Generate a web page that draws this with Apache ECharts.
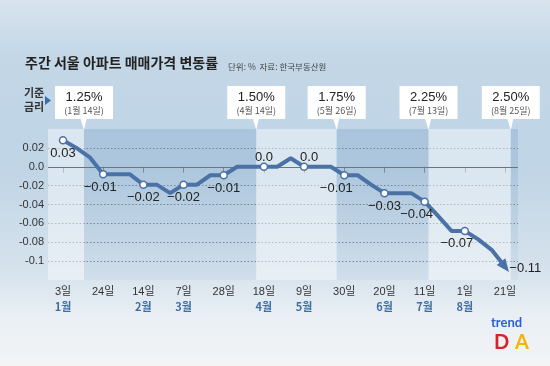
<!DOCTYPE html>
<html><head><meta charset="utf-8">
<script src="https://cdn.jsdelivr.net/npm/echarts@6/dist/echarts.min.js"></script>
<style>html,body{margin:0;padding:0;width:550px;height:366px;overflow:hidden}#c{width:550px;height:366px}</style>
</head><body><div id="c"></div><script>
// weekly change (%), 2022-01-03 .. 2022-08-21 (34 weeks)
const weekValues = [0.028, 0.02, 0.01, -0.008, -0.008, -0.008, -0.019, -0.019, -0.028, -0.019,
  -0.019, -0.009, -0.009, 0.0, 0.0, 0.0, 0.0, 0.009, 0.0, 0.0,
  0.0, -0.009, -0.009, -0.019, -0.028, -0.028, -0.028, -0.037, -0.052, -0.068,
  -0.068, -0.077, -0.088, -0.106];
const tickWeeks = [0, 3, 6, 9, 12, 15, 18, 21, 24, 27, 30, 33];
const dayLabels = ['3일', '24일', '14일', '7일', '28일', '18일', '9일', '30일', '20일', '11일', '1일', '21일'];
const monthLabels = ['1월', '', '2월', '3월', '', '4월', '5월', '', '6월', '7월', '8월', ''];
const pointLabels = ['0.03', '−0.01', '−0.02', '−0.02', '−0.01', '0.0', '0.0', '−0.01', '−0.03', '−0.04', '−0.07', '−0.11'];
const yTickLabels = { '0.02': '0.02', '0': '0.0', '-0.02': '-0.02', '-0.04': '-0.04', '-0.06': '-0.06', '-0.08': '-0.08', '-0.1': '-0.1' };
// base-rate changes (week index position), rate and date
const rateWeeks = [1.57, 14.43, 20.43, 27.29, 33.43];
const rateValues = ['1.25%', '1.50%', '1.75%', '2.25%', '2.50%'];
const rateDates = ['(1월 14일)', '(4월 14일)', '(5월 26일)', '(7월 13일)', '(8월 25일)'];

const LINE = '#4b72a6';
const xMin = -1.12, xMax = 33.97;

const data = weekValues.map((v, i) => {
  const k = tickWeeks.indexOf(i);
  const item = { value: [i, v] };
  if (k < 0) { item.symbol = 'none'; return item; }
  const last = k === tickWeeks.length - 1;
  const above = pointLabels[k] === '0.0';
  const leftShift = [21, 27, 30].includes(i) ? -8 : (i === 3 ? -3 : 0);
  if (last) {
    item.symbol = 'triangle';
    item.symbolSize = [11, 13];
    item.symbolRotate = -142;
    item.itemStyle = { color: LINE, borderWidth: 0 };
    item.label = { show: true, formatter: pointLabels[k], position: 'right', distance: 2, offset: [-6, 2] };
  } else {
    item.symbol = 'circle';
    item.symbolSize = 7;
    item.label = { show: true, formatter: pointLabels[k], position: above ? 'top' : 'bottom', distance: 2,
      offset: above ? [i === 18 ? 5 : 0, 3] : [leftShift, 0] };
  }
  return item;
});

const paleBand = 'rgba(255,255,255,0.42)';
const darkBand = { type: 'linear', x: 0, y: 0, x2: 0, y2: 1, colorStops: [
  { offset: 0, color: 'rgba(85,135,185,0.22)' }, { offset: 1, color: 'rgba(85,135,185,0.06)' }] };
const bandEdges = [xMin].concat(rateWeeks, [xMax]);
const bands = [];
for (let i = 0; i < bandEdges.length - 1; i++) {
  bands.push([{ xAxis: bandEdges[i], itemStyle: { color: i % 2 === 0 ? paleBand : darkBand } }, { xAxis: bandEdges[i + 1] }]);
}

const chart = echarts.init(document.getElementById('c'), null, { renderer: 'canvas' });
const option = {
  animation: false,
  backgroundColor: { type: 'linear', x: 0, y: 0, x2: 0, y2: 1, colorStops: [
    { offset: 0, color: '#d8e4ee' }, { offset: 0.15, color: '#c3d7e7' }, { offset: 0.45, color: '#bfd4e5' },
    { offset: 0.75, color: '#d7e3ed' }, { offset: 0.86, color: '#e9eff4' }, { offset: 1, color: '#f2f4f6' }] },
  grid: { left: 48, right: 32, top: 129, bottom: 86, containLabel: false },
  xAxis: {
    type: 'value', min: xMin, max: xMax,
    axisLine: { show: false },
    splitLine: { show: false },
    axisTick: { show: true, customValues: tickWeeks, length: 6, lineStyle: { color: '#888' } },
    axisLabel: {
      customValues: tickWeeks, margin: 4, lineHeight: 15,
      formatter: (v) => {
        const k = tickWeeks.indexOf(Math.round(v));
        return '{d|' + dayLabels[k] + '}\n{m|' + (monthLabels[k] || ' ') + '}';
      },
      rich: {
        d: { fontFamily: 'Liberation Sans, Noto Sans CJK KR', fontSize: 11, color: '#333', lineHeight: 15 },
        m: { fontFamily: 'Noto Sans CJK KR', fontSize: 11, fontWeight: 'bold', color: '#3d6ea5', lineHeight: 15 }
      }
    }
  },
  yAxis: {
    type: 'value', min: -0.12, max: 0.04, interval: 0.02,
    axisLine: { show: false }, axisTick: { show: false },
    axisLabel: {
      margin: 4, fontFamily: 'Liberation Sans', fontSize: 11, color: '#333',
      formatter: (v) => { const key = String(Math.round(v * 100) / 100); return yTickLabels[key] || ''; }
    },
    splitLine: { show: true, showMinLine: false, showMaxLine: false, lineStyle: { color: '#7a8590', type: [1.5, 2], width: 1 } }
  },
  series: [{
    type: 'line', data: data, showAllSymbol: true,
    lineStyle: { color: LINE, width: 4 },
    itemStyle: { color: '#fff', borderColor: LINE, borderWidth: 1.5 },
    label: { color: '#222', fontFamily: 'Liberation Sans', fontSize: 13 },
    z: 5,
    markArea: { silent: true, data: bands, z: 1 },
    markLine: { silent: true, symbol: 'none', label: { show: false },
      lineStyle: { color: '#6b7580', type: 'solid', width: 1 }, data: [{ yAxis: 0 }] }
  }],
  graphic: []
};
chart.setOption(option);

const g = [
  { type: 'text', left: 25, top: 56, style: { text: '주간 서울 아파트 매매가격 변동률', fontFamily: 'Noto Sans CJK KR', fontWeight: 'bold', fontSize: 14, fill: '#222' } },
  { type: 'text', left: 228, top: 63, style: { text: '단위: %  자료: 한국부동산원', fontFamily: 'Noto Sans CJK KR', fontSize: 8.5, fill: '#444' } },
  { type: 'text', left: 24, top: 86, style: { text: '기준\n금리', lineHeight: 14, fontFamily: 'Noto Sans CJK KR', fontWeight: 'bold', fontSize: 11, fill: '#333' } },
  { type: 'polygon', shape: { points: [[45, 96], [45, 105], [51, 100.5]] }, style: { fill: '#3d6ea5' } },
  { type: 'text', left: 491, top: 316, style: { text: 'trend', fontFamily: 'Lato', fontWeight: 'bold', fontSize: 13, fill: '#2a5fdc' } },
  { type: 'text', left: 494, top: 333, style: { text: 'D', fontFamily: 'Lato', fontWeight: 'bold', fontSize: 20, fill: '#e01e27' } },
  { type: 'text', left: 515, top: 333, style: { text: 'A', fontFamily: 'Lato', fontWeight: 'bold', fontSize: 20, fill: '#f4b400' } }
];
rateWeeks.forEach((w, i) => {
  const cx = chart.convertToPixel({ gridIndex: 0 }, [w, 0])[0];
  g.push({ type: 'polygon', shape: { points: [[cx - 4, 117], [cx + 3, 117], [cx, 130]] }, style: { fill: '#fff' } });
  g.push({ type: 'rect', shape: { x: cx - 29, y: 86, width: 58, height: 33 }, style: { fill: '#fff' } });
  g.push({ type: 'text', x: cx, y: 97, style: { text: rateValues[i], align: 'center', verticalAlign: 'middle', fontFamily: 'Liberation Sans', fontSize: 13, fill: '#222' } });
  g.push({ type: 'text', x: cx, y: 110.5, style: { text: rateDates[i], align: 'center', verticalAlign: 'middle', fontFamily: 'Noto Sans CJK KR', fontSize: 9, fill: '#555' } });
});
chart.setOption({ graphic: g });
</script></body></html>
